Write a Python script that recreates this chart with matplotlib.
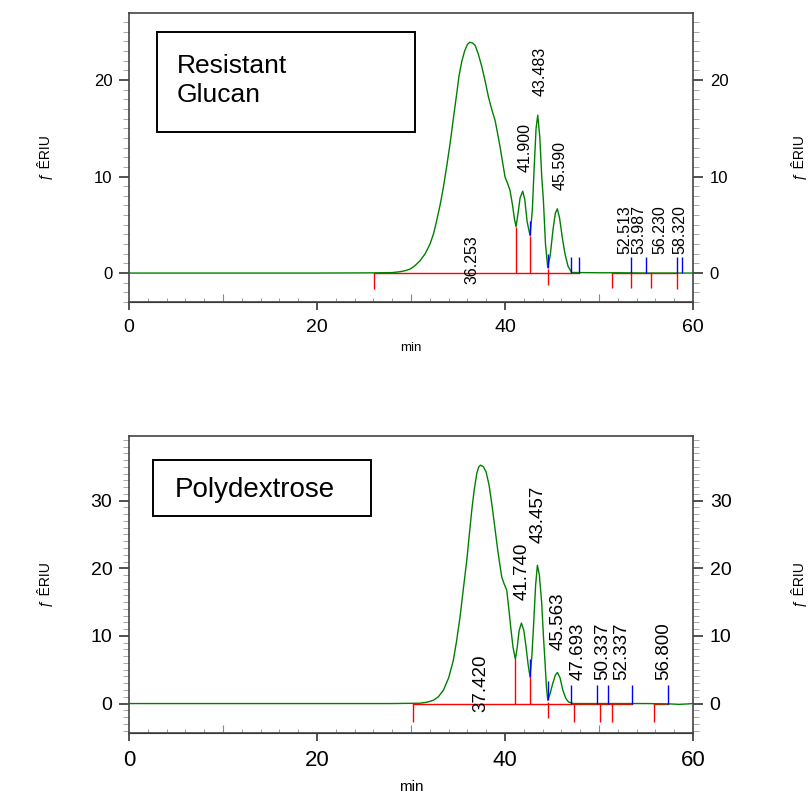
import matplotlib
matplotlib.use("Agg")
import matplotlib.pyplot as plt
from matplotlib.patches import Rectangle
from matplotlib.ticker import MultipleLocator

# --- Resistant Glucan (upper trace) ---
rg_time = [0, 10, 20, 26, 28, 28.83, 29.4, 29.89, 30.4, 30.96, 31.5, 32.02, 32.4,
           32.73, 33.1, 33.44, 33.8, 34.15, 34.5, 34.86, 35.1, 35.39, 35.7, 36.0,
           36.25, 36.5, 36.81, 37.15, 37.52, 37.9, 38.23, 38.6, 38.94, 39.2, 39.47,
           39.75, 40.0, 40.3, 40.53, 40.8, 41.0, 41.17, 41.4, 41.6, 41.88, 42.1,
           42.35, 42.66, 42.9, 43.1, 43.3, 43.48, 43.7, 43.9, 44.08, 44.3, 44.54,
           44.8, 45.1, 45.35, 45.56, 45.8, 46.1, 46.38, 46.7, 47.09, 48, 50, 52,
           55, 58, 60]
rg_signal = [0, 0, 0, 0.02, 0.05, 0.14, 0.25, 0.41, 0.75, 1.28, 2.0, 3.01, 4.1,
             5.44, 7.1, 8.9, 11.1, 13.4, 16.0, 18.6, 20.4, 21.9, 23.0, 23.7,
             23.9, 23.85, 23.6, 22.7, 21.4, 19.8, 18.25, 16.9, 15.8, 14.5, 13.05,
             11.4, 9.94, 9.2, 8.55, 7.0, 5.6, 4.81, 6.3, 7.8, 8.48, 7.6,
             5.3, 3.88, 6.5, 11.0, 15.0, 16.35, 14.0, 10.0, 7.5, 3.0, 0.58,
             1.8, 4.5, 6.2, 6.65, 5.7, 3.6, 1.97, 0.7, 0.06, 0.05, 0.03, 0.03,
             0, 0, 0]
rg_labels = ["36.253", "41.900", "43.483", "45.590", "52.513", "53.987", "56.230", "58.320"]
rg_label_y = [-1.1, 10.5, 18.3, 8.6, 2.0, 2.0, 2.0, 2.0]
rg_base = [(26.1, 47.9), (51.35, 55.5), (55.5, 58.3)]
rg_red_t = [26.1, 41.17, 42.66, 44.56, 51.35, 53.4, 55.5, 58.3]
rg_red_y0 = [0, 0, 0, 0.45, 0, 0, 0, 0]
rg_red_y1 = [-1.6, 4.81, 3.88, -1.2, -1.5, -1.5, -1.5, -1.6]
rg_blue_t = [42.66, 44.54, 47.0, 47.9, 53.4, 54.97, 58.25, 58.8]
rg_blue_y0 = [3.9, 0.5, 0.05, 0.05, 0, 0, 0, 0]
rg_blue_y1 = [5.4, 2.0, 1.7, 1.7, 1.7, 1.7, 1.7, 1.7]

# --- Polydextrose (lower trace) ---
pd_time = [0, 10, 20, 28, 30.96, 31.7, 32.4, 32.9, 33.44, 34.0, 34.5, 34.85, 35.21,
           35.55, 35.93, 36.2, 36.46, 36.72, 36.99, 37.2, 37.41, 37.7, 37.98, 38.3,
           38.58, 38.9, 39.22, 39.45, 39.65, 39.9, 40.18, 40.4, 40.64, 40.85, 41.1,
           41.3, 41.5, 41.74, 42.0, 42.23, 42.45, 42.66, 42.85, 43.05, 43.25, 43.44,
           43.65, 43.9, 44.08, 44.26, 44.4, 44.54, 44.8, 45.07, 45.35, 45.57, 45.85,
           46.14, 46.45, 46.74, 47.27, 50, 55, 57.5, 58.5, 59.5, 60]
pd_signal = [0, 0, 0, 0, 0.05, 0.2, 0.5, 1.0, 1.97, 3.8, 6.4, 9.3, 12.8,
             16.8, 21.2, 25.0, 28.6, 31.6, 34.0, 35.0, 35.25, 35.0, 34.26, 32.3,
             29.6, 26.2, 22.7, 20.5, 18.7, 17.7, 16.76, 14.0, 10.8, 8.3, 6.55,
             8.4, 10.8, 11.9, 10.8, 8.4, 5.8, 3.94, 7.0, 12.0, 17.5, 20.46,
             19.0, 14.8, 10.0, 5.9, 2.5, 0.5, 1.5, 2.96, 4.2, 4.6, 3.8,
             2.0, 0.8, 0.24, 0.0, 0.0, 0.0, -0.05, -0.12, -0.05, 0]
pd_labels = ["37.420", "41.740", "43.457", "45.563", "47.693", "50.337", "52.337", "56.800"]
pd_label_y = [-1.24, 15.3, 23.7, 7.9, 3.45, 3.45, 3.45, 3.45]
pd_base = [(30.2, 53.55), (55.85, 57.38)]
pd_red_t = [30.2, 41.1, 42.66, 44.56, 47.38, 50.14, 51.42, 55.85]
pd_red_y0 = [0, 0, 0, 0.3, 0, 0, 0, 0]
pd_red_y1 = [-2.7, 6.55, 3.94, -2.2, -2.7, -2.7, -2.7, -2.7]
pd_blue_t = [42.6, 44.54, 46.99, 49.75, 50.99, 53.55, 57.38]
pd_blue_y0 = [3.9, 0.5, 0, 0, 0, 0, 0]
pd_blue_y1 = [6.6, 3.3, 2.8, 2.8, 2.8, 2.8, 2.8]

ARIAL = ["Liberation Sans", "DejaVu Sans"]
UNIT = "ƒ ÊRIU"


def draw_panel(ax, t, s, labels, label_y, dx, lab_fs, base, red, blue):
    ax.plot(t, s, color="#008000", lw=1.0, zorder=3)
    for a, b in base:
        ax.plot([a, b], [0, 0], color="red", lw=1.0, zorder=2)
    ax.vlines(red[0], red[1], red[2], color="red", lw=1.0, zorder=4)
    ax.vlines(blue[0], blue[1], blue[2], color="blue", lw=1.0, zorder=4)
    for lab, y in zip(labels, label_y):
        ax.text(float(lab) + dx, y, lab, rotation=90, ha="center", va="bottom",
                fontsize=lab_fs, family=ARIAL, zorder=5)


def style(ax, ylim, yticks, fs_y, fs_x):
    ax.set_xlim(0, 60)
    ax.set_ylim(*ylim)
    ax.set_xticks([0, 20, 40, 60])
    ax.xaxis.set_minor_locator(MultipleLocator(2))
    ax.set_yticks(yticks)
    ax.yaxis.set_minor_locator(MultipleLocator(1))
    ax.tick_params(axis="x", which="major", direction="out", length=6, width=1.2,
                   labelsize=fs_x, pad=6, color="#333333")
    ax.tick_params(axis="x", which="minor", direction="in", length=3, color="#888888")
    ax.tick_params(axis="y", which="major", direction="out", length=7, width=1.2,
                   labelsize=fs_y, left=True, right=True, labelright=True,
                   pad=5, color="#333333")
    ax.tick_params(axis="y", which="minor", direction="out", length=4,
                   left=True, right=True, color="#999999")
    for lbl in ax.get_xticklabels() + ax.get_yticklabels():
        lbl.set_family(ARIAL)
    sec = ax.secondary_xaxis("bottom")
    sec.set_xticks([10, 30, 50])
    sec.tick_params(direction="in", length=6, labelbottom=False, color="#888888")
    for sp in ax.spines.values():
        sp.set_color("#444444")
        sp.set_linewidth(1.2)


fig = plt.figure(figsize=(8.09, 7.95), dpi=100)
ax1 = fig.add_axes([0.1595, 0.6201, 0.6972, 0.3631])
ax2 = fig.add_axes([0.1595, 0.0776, 0.6972, 0.3743])

draw_panel(ax1, rg_time, rg_signal, rg_labels, rg_label_y, 0.25, 11.5,
           rg_base, (rg_red_t, rg_red_y0, rg_red_y1), (rg_blue_t, rg_blue_y0, rg_blue_y1))
draw_panel(ax2, pd_time, pd_signal, pd_labels, pd_label_y, 0.05, 13.5,
           pd_base, (pd_red_t, pd_red_y0, pd_red_y1), (pd_blue_t, pd_blue_y0, pd_blue_y1))

style(ax1, (-3, 26.9), [0, 10, 20], 12, 14)
style(ax2, (-4.4, 39.6), [0, 10, 20, 30], 14, 16)

# sample name boxes
ax1.add_patch(Rectangle((0.0496, 0.589), 0.4574, 0.346, transform=ax1.transAxes,
                        fill=False, ec="black", lw=1.4, zorder=6))
ax1.text(0.0846, 0.86, "Resistant\nGlucan", transform=ax1.transAxes, fontsize=19,
         family=ARIAL, va="top", ha="left", linespacing=1.3)
ax2.add_patch(Rectangle((0.042, 0.731), 0.387, 0.187, transform=ax2.transAxes,
                        fill=False, ec="black", lw=1.4, zorder=6))
ax2.text(0.0816, 0.795, "Polydextrose", transform=ax2.transAxes, fontsize=20,
         family=ARIAL, va="baseline", ha="left")

ax1.text(0.5, -0.159, "min", transform=ax1.transAxes, ha="center", va="center",
         fontsize=9.5, family=ARIAL)
ax2.text(0.5, -0.18, "min", transform=ax2.transAxes, ha="center", va="center",
         fontsize=11, family=ARIAL)

for yc in (1 - 157.5 / 795, 1 - 584.5 / 795):
    fig.text(45 / 809, yc, UNIT, rotation=90, ha="center", va="center", fontsize=10, family=ARIAL)
    fig.text(799 / 809, yc, UNIT, rotation=90, ha="center", va="center", fontsize=10, family=ARIAL)

fig.savefig("out.png", dpi=100)
